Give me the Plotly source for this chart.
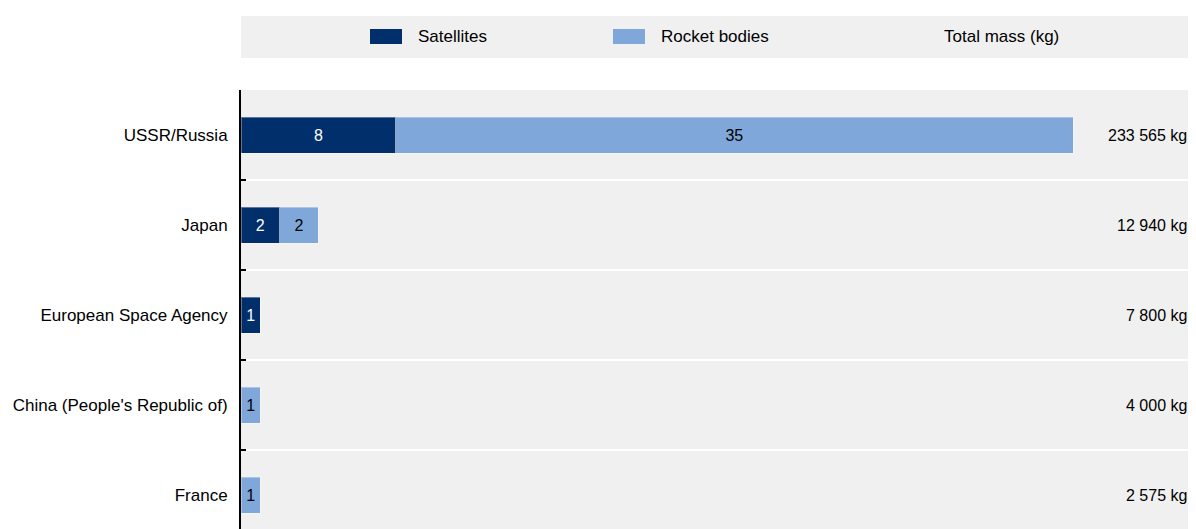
import plotly.graph_objects as go

countries = ["USSR/Russia", "Japan", "European Space Agency", "China (People's Republic of)", "France"]
satellites = [8, 2, 1, 0, 0]
rocket_bodies = [35, 2, 0, 1, 1]
mass_labels = ["233 565 kg", "12 940 kg", "7 800 kg", "4 000 kg", "2 575 kg"]

DARK = "#002F6C"
LIGHT = "#7FA7D9"
BG = "#F0F0F0"
FONT = "Arial, Liberation Sans, sans-serif"

OFF = 8  # page body margin
W, H = 1196, 529
ML, MT = 241 - OFF, 90 - OFF
MR = OFF
PW, PH = W - ML - MR, H - MT

def px(x):
    return (x - OFF - ML) / PW

def py(y):
    return (H - (y - OFF)) / PH

fig = go.Figure()
fig.add_trace(go.Bar(
    y=countries, x=satellites, orientation="h", name="Satellites",
    marker=dict(color=DARK, line=dict(width=1, color="rgba(255,255,255,0.35)")),
    text=[str(v) if v else "" for v in satellites], textposition="inside",
    insidetextanchor="middle", textangle=0, constraintext="none",
    textfont=dict(color="white", size=16, family=FONT), width=0.4,
))
fig.add_trace(go.Bar(
    y=countries, x=rocket_bodies, orientation="h", name="Rocket bodies",
    marker=dict(color=LIGHT, line=dict(width=1, color="rgba(255,255,255,0.35)")),
    text=[str(v) if v else "" for v in rocket_bodies], textposition="inside",
    insidetextanchor="middle", textangle=0, constraintext="none",
    textfont=dict(color="black", size=16, family=FONT), width=0.4,
))

annotations = []
for c, m in zip(countries, mass_labels):
    annotations.append(dict(x=1, xref="paper", y=c, yref="y", text=m, showarrow=False,
                            xanchor="right", xshift=-7, font=dict(size=16, color="black", family=FONT)))

shapes = [
    dict(type="rect", xref="paper", yref="paper", x0=0, x1=1, y0=py(58), y1=py(16),
         fillcolor=BG, line=dict(width=0), layer="below"),
    dict(type="rect", xref="paper", yref="paper", x0=px(370), x1=px(402), y0=py(44), y1=py(29),
         fillcolor=DARK, line=dict(width=0)),
    dict(type="rect", xref="paper", yref="paper", x0=px(613), x1=px(645), y0=py(44), y1=py(29),
         fillcolor=LIGHT, line=dict(width=0)),
]
annotations += [
    dict(x=px(416), y=py(37), xref="paper", yref="paper", text="Satellites", showarrow=False,
         xanchor="left", yanchor="middle", font=dict(size=17, color="black", family=FONT)),
    dict(x=px(659), y=py(37), xref="paper", yref="paper", text="Rocket bodies", showarrow=False,
         xanchor="left", yanchor="middle", font=dict(size=17, color="black", family=FONT)),
    dict(x=px(1001), y=py(37), xref="paper", yref="paper", text="Total mass (kg)", showarrow=False,
         xanchor="center", yanchor="middle", font=dict(size=17, color="black", family=FONT)),
]

fig.update_layout(
    width=W, height=H, barmode="stack", showlegend=False,
    paper_bgcolor="white", plot_bgcolor=BG,
    margin=dict(l=ML, r=MR, t=MT, b=0, pad=0),
    font=dict(family=FONT, size=17, color="black"),
    shapes=shapes, annotations=annotations,
    xaxis=dict(range=[0, 43 * PW / 832], visible=False, fixedrange=True),
    yaxis=dict(type="category", range=[-0.5 + PH / 90, -0.5], tickson="boundaries",
               showgrid=True, gridcolor="white", gridwidth=2,
               ticks="inside", ticklen=5, tickwidth=2, tickcolor="black",
               showline=True, linecolor="black", linewidth=2,
               tickfont=dict(size=17, color="black", family=FONT), ticklabelstandoff=8),
)

fig.write_html("out.html")
